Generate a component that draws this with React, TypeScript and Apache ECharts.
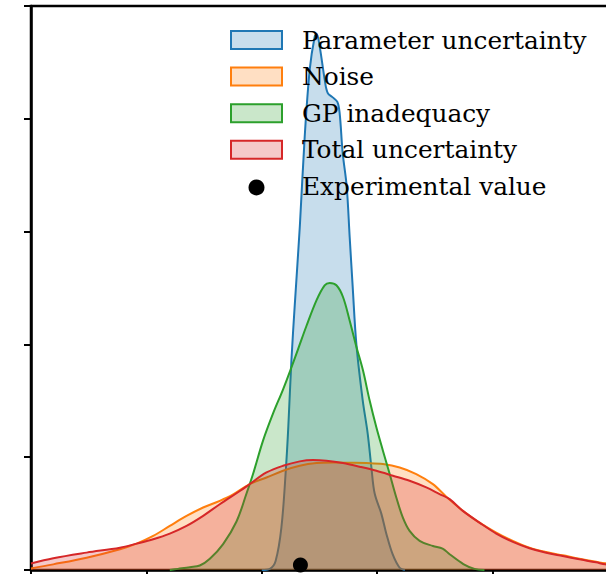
import React, { useEffect, useRef } from "react";
import * as echarts from "echarts";

// ---- data (x in axis units, y in density units) ----
const paramX = [2.0, 2.07, 2.12, 2.17, 2.21, 2.23, 2.257, 2.286, 2.33, 2.372, 2.416, 2.459, 2.476, 2.502, 2.545, 2.571, 2.615, 2.655, 2.675, 2.701, 2.736, 2.762, 2.788, 2.82, 2.874, 2.918, 2.95, 2.978, 3.036, 3.08, 3.134, 3.195, 3.24];
const paramY = [0, 0.01, 0.08, 0.375, 0.91, 1.27, 1.86, 2.35, 3.05, 3.84, 4.44, 4.73, 4.75, 4.64, 4.35, 4.23, 4.19, 4.15, 4.05, 3.7, 3.4, 2.95, 2.51, 2.0, 1.51, 1.21, 0.91, 0.68, 0.5, 0.32, 0.14, 0.02, 0];

const noiseX = [0, 0.193, 0.482, 0.771, 0.915, 1.059, 1.203, 1.348, 1.492, 1.636, 1.752, 1.896, 2.041, 2.184, 2.329, 2.474, 2.617, 2.762, 2.906, 3.05, 3.195, 3.339, 3.483, 3.599, 3.743, 3.887, 4.032, 4.176, 4.32, 4.465, 4.609, 4.753, 4.898, 4.978, 5.2];
const noiseY = [0.014, 0.05, 0.109, 0.184, 0.234, 0.302, 0.391, 0.48, 0.554, 0.613, 0.67, 0.762, 0.82, 0.88, 0.924, 0.948, 0.953, 0.951, 0.948, 0.939, 0.908, 0.85, 0.761, 0.65, 0.524, 0.42, 0.332, 0.258, 0.198, 0.159, 0.13, 0.1, 0.073, 0.06, 0.04];

const gpX = [1.203, 1.273, 1.377, 1.463, 1.55, 1.665, 1.781, 1.867, 1.925, 2.011, 2.098, 2.184, 2.257, 2.314, 2.387, 2.474, 2.545, 2.589, 2.647, 2.704, 2.762, 2.82, 2.877, 2.935, 2.993, 3.05, 3.108, 3.166, 3.223, 3.281, 3.368, 3.483, 3.567, 3.628, 3.747, 3.844, 3.93];
const gpY = [0, 0.01, 0.025, 0.04, 0.1, 0.23, 0.43, 0.676, 0.853, 1.147, 1.388, 1.6, 1.796, 1.956, 2.163, 2.391, 2.524, 2.545, 2.524, 2.42, 2.21, 1.98, 1.77, 1.502, 1.265, 1.058, 0.853, 0.643, 0.464, 0.347, 0.258, 0.213, 0.19, 0.14, 0.053, 0.01, 0];

const totalX = [0, 0.193, 0.482, 0.771, 0.915, 1.059, 1.203, 1.348, 1.492, 1.636, 1.81, 1.896, 2.041, 2.184, 2.329, 2.444, 2.56, 2.704, 2.848, 2.993, 3.137, 3.281, 3.426, 3.541, 3.628, 3.743, 3.887, 4.032, 4.176, 4.32, 4.465, 4.609, 4.753, 4.898, 4.978, 5.2];
const totalY = [0.057, 0.104, 0.154, 0.198, 0.234, 0.273, 0.323, 0.391, 0.48, 0.583, 0.7, 0.762, 0.865, 0.924, 0.963, 0.975, 0.969, 0.948, 0.916, 0.88, 0.836, 0.791, 0.732, 0.673, 0.628, 0.524, 0.42, 0.323, 0.249, 0.193, 0.153, 0.124, 0.095, 0.068, 0.05, 0.035];

const experimental = [2.335, 0.045];

const seriesNames = ["Parameter uncertainty", "Noise", "GP inadequacy", "Total uncertainty"];
const seriesColors = ["#1f77b4", "#ff7f0e", "#2ca02c", "#d62728"];
const seriesFills = ["rgba(31,119,180,0.25)", "rgba(255,127,14,0.25)", "rgba(44,160,44,0.25)", "rgba(214,39,40,0.25)"];
const expName = "Experimental value";

const zip = (xs: number[], ys: number[]) => xs.map((x, i) => [x, ys[i]]);

export default function App() {
  const ref = useRef<HTMLDivElement>(null);
  useEffect(() => {
    if (!ref.current) return;
    const chart = echarts.init(ref.current, undefined, { renderer: "svg" });
    const datasets = [zip(paramX, paramY), zip(noiseX, noiseY), zip(gpX, gpY), zip(totalX, totalY)];
    const font = '24.8px "DejaVu Serif", serif';
    const legendTop = 31;
    const rowGap = 36.6;
    const legendGraphics: any[] = [];
    seriesNames.forEach((name, i) => {
      const cy = legendTop + 9 + i * rowGap;
      legendGraphics.push({
        type: "rect",
        shape: { x: 231, y: cy - 9, width: 51, height: 18 },
        style: { fill: seriesFills[i], stroke: seriesColors[i], lineWidth: 2 },
        z: 100,
      });
      legendGraphics.push({
        type: "text",
        x: 302,
        y: cy,
        style: { text: name, font, fill: "#000", verticalAlign: "middle", align: "left" },
        z: 100,
      });
    });
    const cyExp = legendTop + 9 + 4 * rowGap + 1;
    legendGraphics.push({
      type: "circle",
      shape: { cx: 256.5, cy: cyExp, r: 8 },
      style: { fill: "#000" },
      z: 100,
    });
    legendGraphics.push({
      type: "text",
      x: 302,
      y: cyExp - 1,
      style: { text: expName, font, fill: "#000", verticalAlign: "middle", align: "left" },
      z: 100,
    });

    chart.setOption({
      animation: false,
      backgroundColor: "#fff",
      grid: {
        left: 31,
        top: 6,
        width: 600,
        height: 564,
        outerBoundsMode: "none",
        containLabel: false,
        show: true,
        borderColor: "#000",
        borderWidth: 2.5,
        backgroundColor: "transparent",
      },
      xAxis: {
        type: "value",
        min: 0,
        max: 5.2,
        interval: 1,
        axisLine: { show: true, lineStyle: { color: "#000", width: 2.5 } },
        axisTick: { show: true, length: 7, lineStyle: { color: "#000", width: 2 } },
        axisLabel: { show: false },
        splitLine: { show: false },
      },
      yAxis: {
        type: "value",
        min: 0,
        max: 5,
        interval: 1,
        axisLine: { show: true, lineStyle: { color: "#000", width: 2.5 } },
        axisTick: { show: true, length: 7, lineStyle: { color: "#000", width: 2 } },
        axisLabel: { show: false },
        splitLine: { show: false },
      },
      series: [
        ...seriesNames.map((name, i) => ({
          name,
          type: "line",
          data: datasets[i],
          smooth: 0.35,
          showSymbol: false,
          symbol: "none",
          lineStyle: { color: seriesColors[i], width: 2 },
          itemStyle: { color: seriesColors[i] },
          areaStyle: { color: seriesFills[i], opacity: 1 },
          z: 2 + i,
        })),
        {
          name: expName,
          type: "scatter",
          data: [experimental],
          symbolSize: 15,
          itemStyle: { color: "#000", opacity: 1 },
          z: 10,
        },
      ],
      graphic: legendGraphics,
    });
    return () => chart.dispose();
  }, []);
  return <div ref={ref} style={{ position: "fixed", left: 0, top: 0, width: 606, height: 574 }} />;
}
